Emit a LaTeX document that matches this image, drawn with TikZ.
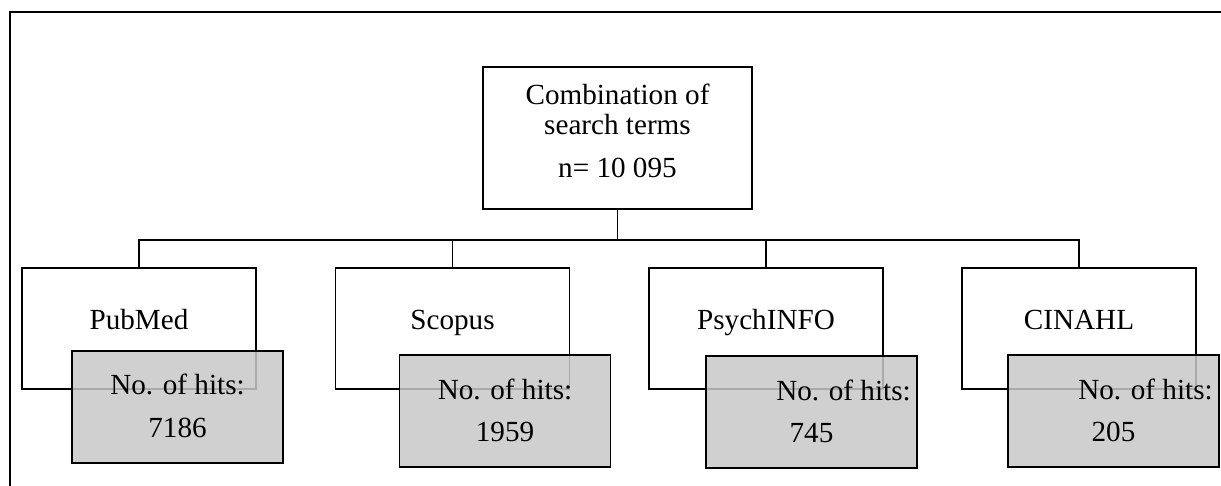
\documentclass[tikz,border=0pt]{standalone}
\usepackage{fontspec}
\setmainfont{Liberation Serif}
\usetikzlibrary{positioning}
\definecolor{Hits}{RGB}{200, 200, 200}

\begin{document}
\begin{tikzpicture}[x=0.02cm, y=-0.02cm, line width=0.038cm,
    font=\fontsize{16.6}{17}\selectfont,
    topbox/.style={draw, minimum width=5.38cm, minimum height=2.84cm, inner sep=0pt},
    dbbox/.style={draw, fill=white, minimum width=4.68cm, minimum height=2.42cm, inner sep=0pt},
    hitbox/.style={draw, fill=Hits, fill opacity=0.85, minimum width=4.22cm, minimum height=2.24cm, inner sep=0pt},
    txt/.style={inner sep=0pt, anchor=base}]
            \useasboundingbox (0,0) rectangle (1221,486);
            \clip (0,0) rectangle (1221,486);
            % outer frame (cut at right and bottom)
            \draw (10,520) -- (10,12) -- (1260,12);

            \node[topbox] (search) at (617.5,138) {};
            \node[inner sep=0pt, anchor=north, align=center] (searchtxt) at (617.5,83)
                {Combination of\\search terms\\[7.4pt]n= 10 095};
            \coordinate (bus) at (617.5,240);
            \draw (search.south) -- (bus);

            \foreach \name/\title/\x in {pubmed/PubMed/139, scopus/Scopus/452.5,
                    psych/PsychINFO/766, cinahl/CINAHL/1079} {
                \node[dbbox] (\name) at (\x,328.5) {};
                \node[txt] (\name txt) at (\x,330) {\title};
                \draw (bus) -| (\name.north);
            }

            \foreach \name/\gx/\gy/\dx/\num in {pubmed/177.5/407/0/7186, scopus/505/411/0/1959,
                    psych/811.5/412/32/745, cinahl/1113.5/411/32/205} {
                \node[hitbox] (\name hits) at (\gx,\gy) {};
                \node[txt] (\name lbl) at (\gx+\dx,\gy-12) {No. of hits:};
                \node[txt] (\name num) at (\gx,\gy+30) {\num};
            }
        \end{tikzpicture}
\end{document}
